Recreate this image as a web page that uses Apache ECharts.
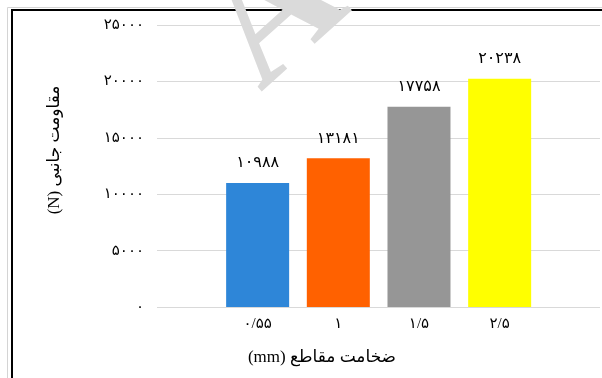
<!DOCTYPE html>
<html>
<head>
<meta charset="utf-8">
<script src="https://cdn.jsdelivr.net/npm/echarts@6/dist/echarts.min.js"></script>
<style>
  html, body { margin: 0; padding: 0; background: #fff; }
  #chart { width: 602px; height: 378px; }
</style>
</head>
<body>
<div id="chart" dir="rtl"></div>
<script>
// Section thickness categories (Persian tick labels) and lateral strength values (N)
const categories = ['۰/۵۵', '۱', '۱/۵', '۲/۵'];
const strengths = [10988, 13181, 17758, 20238];
const barColors = ['#2E86D8', '#FF6100', '#969696', '#FFFF00'];
const yTicks = [0, 5000, 10000, 15000, 20000, 25000];
const xTitle = 'ضخامت مقاطع (mm)';
const yTitle = 'مقاومت جانبی (N)';

const FA_DIGITS = '۰۱۲۳۴۵۶۷۸۹';
const toFa = n => String(n).replace(/\d/g, d => FA_DIGITS[+d]);
const FONT = "'Liberation Serif', 'DejaVu Sans', serif";

const yMin = yTicks[0];
const yMax = yTicks[yTicks.length - 1];
const yStep = yTicks[1] - yTicks[0];

const chart = echarts.init(document.getElementById('chart'), null, { renderer: 'canvas' });

chart.setOption({
  animation: false,
  backgroundColor: '#fff',
  textStyle: { fontFamily: FONT },
  grid: [
    // plot frame with the value gridlines
    { left: 157, right: 2, top: 25, bottom: 71 },
    // band area holding the bars
    { left: 217.3, right: 62, top: 25, bottom: 71 }
  ],
  xAxis: [
    { type: 'value', gridIndex: 0, show: false, min: 0, max: 1 },
    {
      type: 'category', gridIndex: 1, data: categories,
      axisLine: { show: false }, axisTick: { show: false },
      axisLabel: { color: '#000', fontSize: 15, margin: 10, fontFamily: FONT }
    }
  ],
  yAxis: [
    {
      type: 'value', gridIndex: 0, min: yMin, max: yMax, interval: yStep,
      axisLine: { show: false }, axisTick: { show: false },
      axisLabel: { color: '#000', fontSize: 15, margin: 13, fontFamily: FONT, formatter: v => toFa(v) },
      splitLine: { show: true, lineStyle: { color: '#d9d9d9', width: 1 } }
    },
    { type: 'value', gridIndex: 1, min: yMin, max: yMax, interval: yStep, show: false, splitLine: { show: false } }
  ],
  series: [{
    type: 'bar',
    xAxisIndex: 1, yAxisIndex: 1,
    barWidth: 63,
    data: strengths.map((v, i) => ({ value: v, itemStyle: { color: barColors[i] } })),
    label: {
      show: true, position: 'top', distance: 12,
      color: '#000', fontSize: 16, fontFamily: FONT,
      formatter: p => toFa(p.value)
    }
  }],
  graphic: [
    // outer frame: thin grey line and heavy black line
    { type: 'rect', silent: true, z: 50, shape: { x: 7.5, y: 7.5, width: 700, height: 500 },
      style: { fill: 'none', stroke: '#d4d4d4', lineWidth: 1 } },
    { type: 'rect', silent: true, z: 50, shape: { x: 12, y: 10, width: 700, height: 500 },
      style: { fill: 'none', stroke: '#000', lineWidth: 2 } },
    // axis titles
    { type: 'text', silent: true, x: 322, y: 358,
      style: { text: xTitle, fontSize: 17, fontFamily: FONT, fill: '#000', align: 'center', verticalAlign: 'middle' } },
    { type: 'text', silent: true, x: 55, y: 150, rotation: Math.PI / 2,
      style: { text: yTitle, fontSize: 17, fontFamily: FONT, fill: '#000', align: 'center', verticalAlign: 'middle' } },
    // diagonal watermark letter
    { type: 'text', silent: true, z: 100, x: 277, y: 18, rotation: 42 * Math.PI / 180,
      style: { text: 'A', fontSize: 172, fontWeight: 'bold', fontFamily: "'Liberation Serif', serif",
               fill: '#dadada', align: 'center', verticalAlign: 'middle' } }
  ]
});
</script>
</body>
</html>
